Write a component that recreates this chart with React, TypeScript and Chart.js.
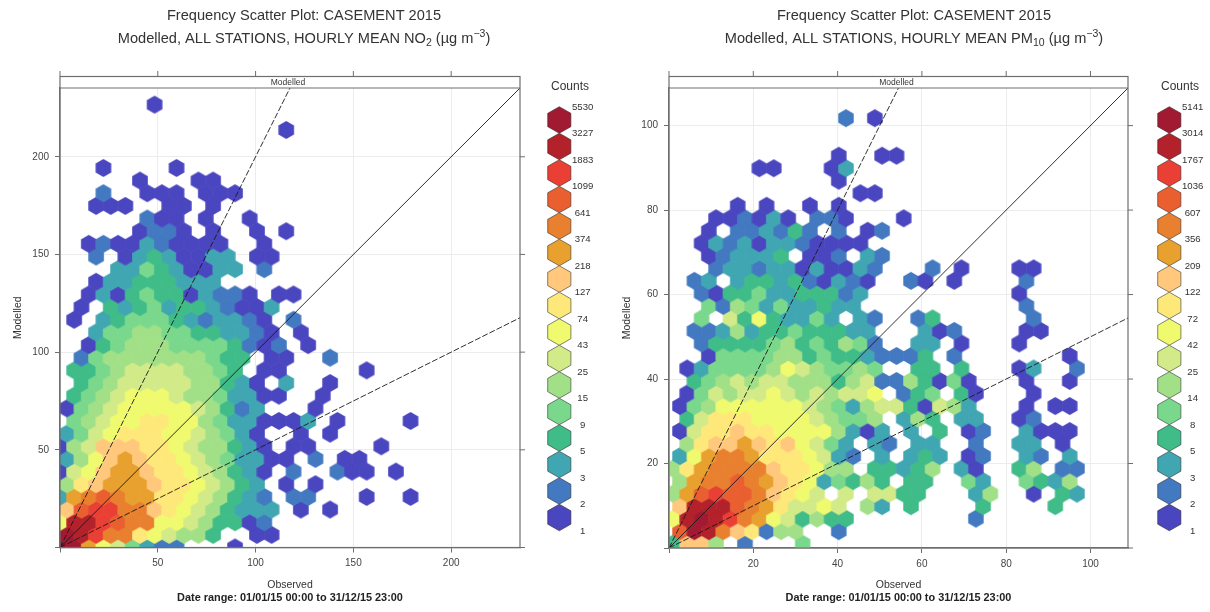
import React, { useEffect, useRef } from "react";
import { Chart, registerables } from "chart.js";

Chart.register(...registerables);

const FONT = '"Liberation Sans", Arial, sans-serif';

const levelColours = ["", "#4a46c0", "#4279c0", "#3fa6b2", "#3fbc88", "#7ad88c", "#a2e088", "#d2ea88", "#f0fa6e", "#ffe87a", "#ffc87c", "#e8a02e", "#e8802f", "#ea5f30", "#ea3f35", "#b3212a", "#a11a32"];

const titleLine = "Frequency Scatter Plot: CASEMENT 2015";
const dateRange = "Date range: 01/01/15 00:00 to 31/12/15 23:00";

const no2CountLabels = ["5530", "3227", "1883", "1099", "641", "374", "218", "127", "74", "43", "25", "15", "9", "5", "3", "2", "1"];
const pm10CountLabels = ["5141", "3014", "1767", "1036", "607", "356", "209", "122", "72", "42", "25", "14", "8", "5", "3", "2", "1"];

// Colour level of each hexagon (1-9, a-g), one string per hexagon row, bottom row first.
const no2Rows = [
  "ggb875322...1",
  "gfecc987664..11",
  "8ffedcc88764412",
  "adeecca98764333.1.1",
  "3bcdcbb99876432.22...1..1",
  "69abbba9987643.1.1",
  "178abba99876431.2..211.1",
  "368aba9987653311.2.11",
  "167aaa998766431.11....1",
  "35789998876531..1.1",
  ".56788998865331113.1....1",
  "15678888876423...1",
  ".456788876653311..1",
  ".4567777766431.3..1",
  ".445677776654.11.....1",
  ".256666666544.11..2",
  "..14566655554212.1",
  "..3556655443321.1",
  ".1.345554323321.2",
  ".1.434534432113",
  "..131454413221.11",
  "..133444333",
  "....335431133.2",
  "..2.13431133.11",
  "..1211321111..1",
  ".....1221.1..1.1",
  "......211.1..1",
  "..111..11.1",
  "...2..111.111",
  ".....1...11",
  "...1....1",
  "",
  "",
  "...............1",
  "",
  "......1",
];

const pm10Rows = [
  "4aa6.2...5",
  "dgfca9266..2",
  "8fgfecb874644........2",
  "afffdcb97787.63.4....4....4",
  "6bdeddca987.7.7744...36..1.43",
  "6bccdcba9835464.44..53..5436",
  "69bcccca99866.44346.31..46.22",
  "38bccb9998732.3.343.12..32.3",
  ".69aaba9a8753.32.33..2..33.1",
  "1799a9988886313.3.4.12..3111",
  ".47999888876556.364.33..12",
  "156888888765367741763...1.11",
  ".15767787676778.245.41...1",
  ".45676776664672264151...1..1",
  ".13555568765565..44.4...13..2",
  "..1555566454432224.2.......1",
  "..2444456454652..33.1...1",
  ".2236344544433...312....11",
  "..5.74843353.32..24......2",
  "..52653533433...........2",
  "..214453344423..........1",
  ".23.3443421321..21.1....2",
  "...233233131132...2.1...11",
  "..123334.112.32",
  "..132313321111",
  "..1.223242.2.12",
  "...112131.221...1",
  "....1.1..1.1",
  ".............11",
  "...........1",
  "......11...13",
  "...........1..11",
  "",
  "",
  "............2.1",
];

// Hexagon grid in data units: [first x, x step, first y, y step]
const no2Grid = [-0.25, 7.478, 0, 6.476];
const pm10Grid = [0.89, 3.425, 1.02, 2.963];

const no2Ticks = [0, 50, 100, 150, 200];
const pm10Ticks = [0, 20, 40, 60, 80, 100];

const no2Max = 235.2;
const pm10Max = 108.9;

type Run = { t: string; s?: "sub" | "sup" };
const no2Heading: Run[] = [{ t: "Modelled, ALL STATIONS, HOURLY MEAN NO" }, { t: "2", s: "sub" }, { t: " (\u00b5g m" }, { t: "\u22123", s: "sup" }, { t: ")" }];
const pm10Heading: Run[] = [{ t: "Modelled, ALL STATIONS, HOURLY MEAN PM" }, { t: "10", s: "sub" }, { t: " (\u00b5g m" }, { t: "\u22123", s: "sup" }, { t: ")" }];

function toPoints(rows: string[], grid: number[]) {
  const [x0, dx, y0, dy] = grid;
  const pts: { x: number; y: number; level: number }[] = [];
  rows.forEach((row, k) => {
    [...row].forEach((c, n) => {
      if (c !== ".") pts.push({ x: x0 + dx * (n + (k % 2) / 2), y: y0 + dy * k, level: parseInt(c, 17) });
    });
  });
  return pts;
}

function hexPath(ctx: CanvasRenderingContext2D, cx: number, cy: number, w: number, h: number) {
  ctx.beginPath();
  ctx.moveTo(cx, cy - h / 2);
  ctx.lineTo(cx + w / 2, cy - h / 4);
  ctx.lineTo(cx + w / 2, cy + h / 4);
  ctx.lineTo(cx, cy + h / 2);
  ctx.lineTo(cx - w / 2, cy + h / 4);
  ctx.lineTo(cx - w / 2, cy - h / 4);
  ctx.closePath();
}

function hexSprite(colour: string, w: number, h: number) {
  const c = document.createElement("canvas");
  c.width = 22;
  c.height = 22;
  const g = c.getContext("2d")!;
  g.fillStyle = colour;
  hexPath(g, 11, 11, w, h);
  g.fill();
  return c;
}

function drawRuns(ctx: CanvasRenderingContext2D, runs: Run[], cx: number, y: number, size: number) {
  const fontFor = (r: Run) => `${r.s ? size * 0.72 : size}px ${FONT}`;
  let total = 0;
  runs.forEach((r) => {
    ctx.font = fontFor(r);
    total += ctx.measureText(r.t).width;
  });
  let x = cx - total / 2;
  ctx.textAlign = "left";
  ctx.textBaseline = "middle";
  runs.forEach((r) => {
    ctx.font = fontFor(r);
    const dy = r.s === "sub" ? 4 : r.s === "sup" ? -5 : 0;
    ctx.fillText(r.t, x, y + dy);
    x += ctx.measureText(r.t).width;
  });
}

type PanelProps = {
  left: number;
  width: number;
  areaLeft: number;
  areaRight: number;
  areaBottom: number;
  rows: string[];
  grid: number[];
  ticks: number[];
  max: number;
  labels: string[];
  heading: Run[];
  titleX: number;
  hexW: number;
  hexH: number;
};

function Panel(p: PanelProps) {
  const ref = useRef<HTMLCanvasElement | null>(null);
  useEffect(() => {
    const top = 88;
    const frame = "#6e6e6e";
    const sprites = levelColours.map((c) => (c ? hexSprite(c, p.hexW + 1, p.hexH + 1.15) : null));
    const decorations = {
      id: "decorations",
      afterDraw(chart: any) {
        const ctx: CanvasRenderingContext2D = chart.ctx;
        const { left, right, bottom } = chart.chartArea;
        const xs = chart.scales.x;
        const ys = chart.scales.y;
        const mid = (left + right) / 2;
        ctx.save();
        ctx.strokeStyle = frame;
        ctx.lineWidth = 1.2;
        ctx.strokeRect(left, 76.5, right - left, bottom - 76.5);
        ctx.beginPath();
        ctx.moveTo(left, top);
        ctx.lineTo(right, top);
        ctx.stroke();
        ctx.lineWidth = 1;
        ctx.beginPath();
        p.ticks.forEach((v) => {
          const px = xs.getPixelForValue(v);
          ctx.moveTo(px, 76);
          ctx.lineTo(px, 71);
          const py = ys.getPixelForValue(v);
          ctx.moveTo(right, py);
          ctx.lineTo(right + 5, py);
        });
        ctx.stroke();

        ctx.fillStyle = "#333";
        ctx.textAlign = "center";
        ctx.textBaseline = "middle";
        ctx.font = `8.5px ${FONT}`;
        ctx.fillText("Modelled", mid - 2, 82.8);

        ctx.font = `14.6px ${FONT}`;
        ctx.fillText(titleLine, p.titleX, 16);
        drawRuns(ctx, p.heading, p.titleX, 39, 14.6);

        ctx.textAlign = "center";
        ctx.textBaseline = "middle";
        ctx.fillStyle = "#222";
        ctx.font = `bold 10.9px ${FONT}`;
        ctx.fillText(dateRange, mid, 598);

        const hexX = 559.3;
        ctx.fillStyle = "#333";
        ctx.font = `12px ${FONT}`;
        ctx.fillText("Counts", 570, 87);
        const n = levelColours.length - 1;
        for (let i = n; i >= 1; i--) {
          const cy = 120 + (n - i) * 26.5;
          hexPath(ctx, hexX, cy, 23.2, 26.6);
          ctx.fillStyle = levelColours[i];
          ctx.fill();
          ctx.strokeStyle = "rgba(50,50,50,0.75)";
          ctx.lineWidth = 0.8;
          ctx.stroke();
        }
        ctx.fillStyle = "#333";
        ctx.font = `9.6px ${FONT}`;
        p.labels.forEach((l, i) => {
          ctx.fillText(l, 582.7, 107.3 + i * 26.48);
        });
        ctx.restore();
      },
    };
    const lineBase = { type: "line", borderColor: "rgba(25,25,25,0.9)", borderWidth: 1, pointRadius: 0, clip: 0 };
    const chart = new Chart(ref.current!, {
      type: "scatter",
      data: {
        datasets: [
          { ...lineBase, data: [{ x: 0, y: 0 }, { x: p.max, y: p.max }] },
          { ...lineBase, borderDash: [6, 2], data: [{ x: 0, y: 0 }, { x: p.max / 2, y: p.max }] },
          { ...lineBase, borderDash: [6, 2], data: [{ x: 0, y: 0 }, { x: p.max, y: p.max / 2 }] },
          {
            data: toPoints(p.rows, p.grid),
            clip: 0,
            pointRadius: 8,
            pointStyle: (c: any) => sprites[c.raw.level],
          },
        ],
      } as any,
      options: {
        responsive: false,
        animation: false,
        events: [],
        layout: { padding: { left: p.areaLeft - 60, right: p.width - p.areaRight, top, bottom: 0 } },
        plugins: { legend: { display: false }, tooltip: { enabled: false } },
        scales: {
          x: {
            type: "linear",
            min: 0,
            max: p.max,
            afterFit: (s: any) => { s.height = 612 - p.areaBottom; },
            afterBuildTicks: (s: any) => { s.ticks = p.ticks.map((value) => ({ value })); },
            ticks: { color: "#444", font: { family: FONT, size: 10 }, padding: 5, maxRotation: 0, autoSkip: false, includeBounds: false, callback: (v: any) => (v === 0 ? "" : String(v)) },
            grid: { color: "#ececec", lineWidth: 1, tickColor: frame, tickLength: 5 },
            border: { color: frame, width: 1.2 },
            title: { display: true, text: "Observed", color: "#333", font: { family: FONT, size: 10.5 }, padding: { top: 0, bottom: 21 } },
          },
          y: {
            type: "linear",
            min: 0,
            max: p.max,
            afterFit: (s: any) => { s.width = 60; },
            afterBuildTicks: (s: any) => { s.ticks = p.ticks.map((value) => ({ value })); },
            ticks: { color: "#444", font: { family: FONT, size: 10 }, padding: 6, autoSkip: false, includeBounds: false, callback: (v: any) => (v === 0 ? "" : String(v)) },
            grid: { color: "#ececec", lineWidth: 1, tickColor: frame, tickLength: 5 },
            border: { color: frame, width: 1.2 },
            title: { display: true, text: "Modelled", color: "#333", font: { family: FONT, size: 10.5 }, padding: { top: 12, bottom: 0 } },
          },
        },
      } as any,
      plugins: [decorations],
    } as any);
    return () => chart.destroy();
  }, []);
  return (
    <canvas
      ref={ref}
      width={p.width}
      height={612}
      style={{ position: "fixed", left: p.left, top: 0, width: p.width, height: 612, filter: "blur(0.5px)" }}
    />
  );
}

export default function App() {
  return (
    <>
      <Panel left={0} width={610} areaLeft={60} areaRight={520} areaBottom={547.5} rows={no2Rows} grid={no2Grid} ticks={no2Ticks} max={no2Max} labels={no2CountLabels} heading={no2Heading} titleX={304} hexW={14.62} hexH={16.88} />
      <Panel left={610} width={600} areaLeft={59} areaRight={518} areaBottom={548} rows={pm10Rows} grid={pm10Grid} ticks={pm10Ticks} max={pm10Max} labels={pm10CountLabels} heading={pm10Heading} titleX={304} hexW={14.45} hexH={16.67} />
    </>
  );
}
